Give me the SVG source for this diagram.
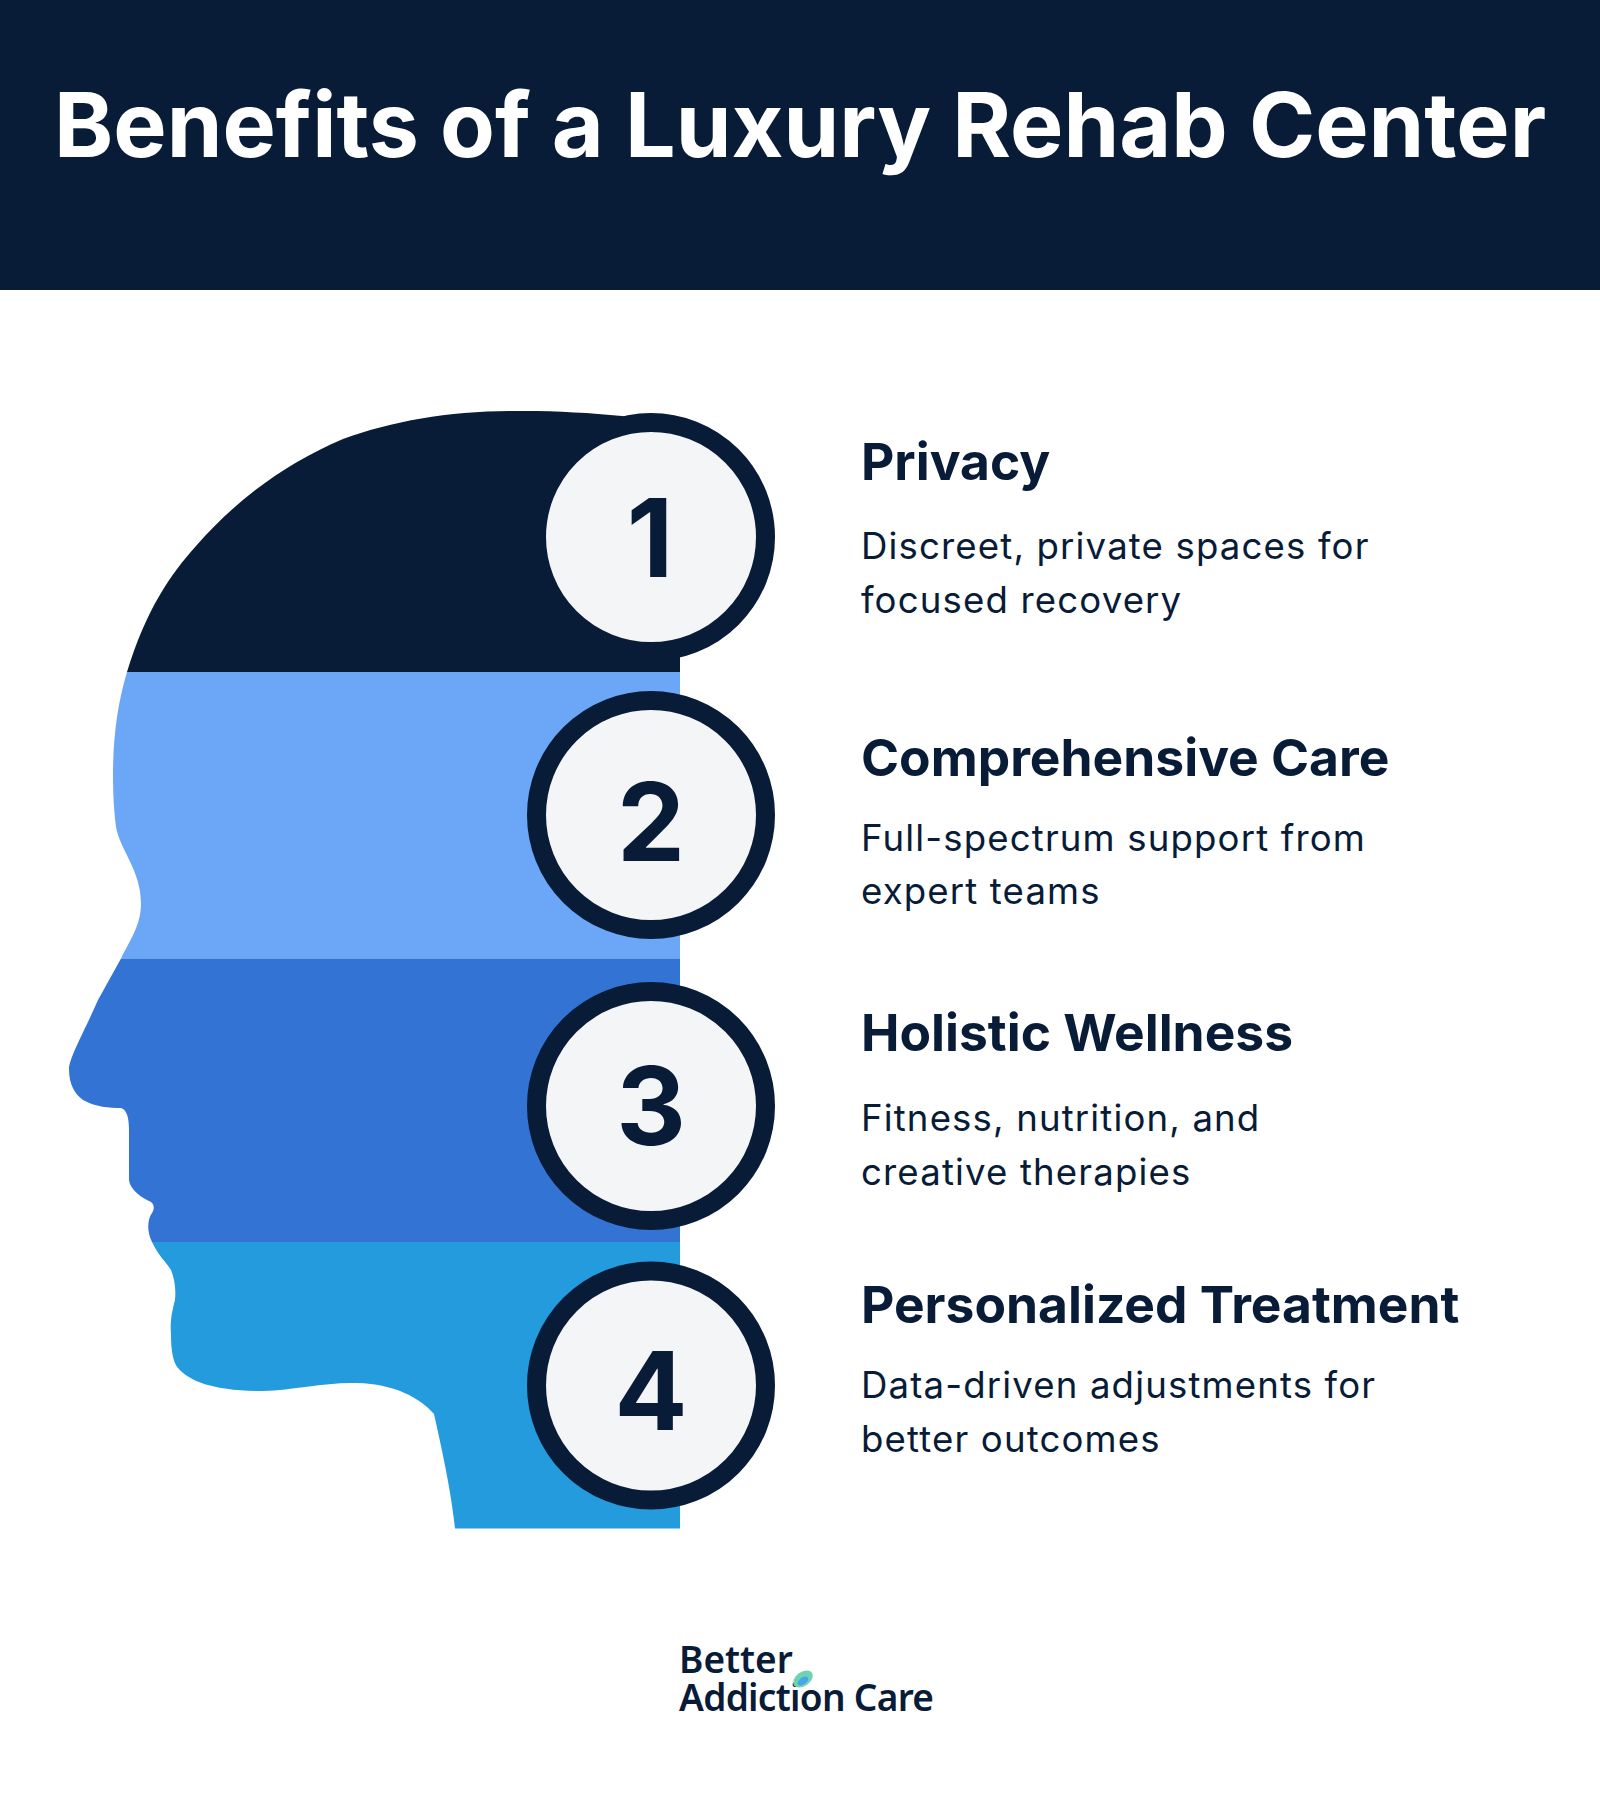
<svg xmlns="http://www.w3.org/2000/svg" width="1600" height="1800" viewBox="0 0 1600 1800">
<style>
text{font-family:Inter,"Noto Sans","Liberation Sans",sans-serif;fill:#081b37}
.title{font-size:89.600px;font-weight:700;fill:#fff}
.h{font-size:51.500px;font-weight:700}
.d{font-size:36.600px;font-weight:400;letter-spacing:1.150px}
.n{font-size:108px;font-weight:700;text-anchor:middle}
.ring{fill:#f3f5f7;stroke:#081b37;stroke-width:19}
.logo{font-family:"Noto Sans","Open Sans",sans-serif;font-size:37px;font-weight:600}
</style>
<rect width="1600" height="1800" fill="#fff"/>
<g id="header"><rect width="1600" height="290" fill="#081b37"/><text class="title" x="54" y="157">Benefits of a Luxury Rehab Center</text></g>
<g id="head">
<path fill="#081b37" d="M127 672C146 610 170 575 196 546C236 500 286 463 343 439C395 420 455 410 522 411C560 411 590 413 622 416L680 430V672Z"/>
<path fill="#6ba6f7" d="M127 672C117 705 113 740 113 775C113 795 114 812 116 827C120 850 141 870 141 904C141 925 130 940 121 958.500L680 958.500V672Z"/>
<path fill="#3273d3" d="M121 958.500L98 1000C85 1030 69 1058 69 1069C69 1085 75 1094 83 1100C95 1107 110 1108 121 1108C127 1110 129 1118 129 1130V1180C130 1190 142 1198 151 1202C155 1205 154 1210 152 1213C147 1220 147 1232 152 1242H680V958.500Z"/>
<path fill="#239bdc" d="M152 1242C158 1255 166 1262 171 1270C175 1280 176 1290 175 1300C172 1312 170 1320 171 1335C171 1350 173 1362 178 1368C190 1382 215 1391 263 1391C295 1390 325 1382 357 1383C395 1384 420 1398 434 1414C442 1450 451 1490 455 1528.600H680V1242Z"/>
</g>
<g id="step-1"><circle class="ring" cx="651" cy="537" r="114.500"/><text class="n" x="650" y="576.500">1</text></g>
<g id="step-2"><circle class="ring" cx="651" cy="815" r="114.500"/><text class="n" x="651" y="860.500">2</text></g>
<g id="step-3"><circle class="ring" cx="651" cy="1106" r="114.500"/><text class="n" x="651" y="1144.500">3</text></g>
<g id="step-4"><circle class="ring" cx="651" cy="1385.500" r="114.500"/><text class="n" x="651" y="1429.500">4</text></g>
<g id="benefit-1"><text class="h" x="861" y="480">Privacy</text><text class="d" x="861" y="558.500">Discreet, private spaces for</text><text class="d" x="861" y="612.500">focused recovery</text></g>
<g id="benefit-2"><text class="h" x="861" y="775.500">Comprehensive Care</text><text class="d" x="861" y="851">Full-spectrum support from</text><text class="d" x="861" y="904">expert teams</text></g>
<g id="benefit-3"><text class="h" x="861" y="1051">Holistic Wellness</text><text class="d" x="861" y="1130.500">Fitness, nutrition, and</text><text class="d" x="861" y="1184.500">creative therapies</text></g>
<g id="benefit-4"><text class="h" x="861" y="1322.500">Personalized Treatment</text><text class="d" x="861" y="1397.500">Data-driven adjustments for</text><text class="d" x="861" y="1451.500">better outcomes</text></g>
<g id="logo"><text class="logo" x="679" y="1673">Better</text><text class="logo" x="679" y="1711" letter-spacing="-.7">Addiction Care</text>
<ellipse cx="803" cy="1679" rx="11" ry="7" fill="#6ed3b0" transform="rotate(-35 803 1679)"/><ellipse cx="803" cy="1681" rx="6" ry="3.500" fill="#4aa3ee" transform="rotate(-35 803 1681)"/></g>
</svg>
